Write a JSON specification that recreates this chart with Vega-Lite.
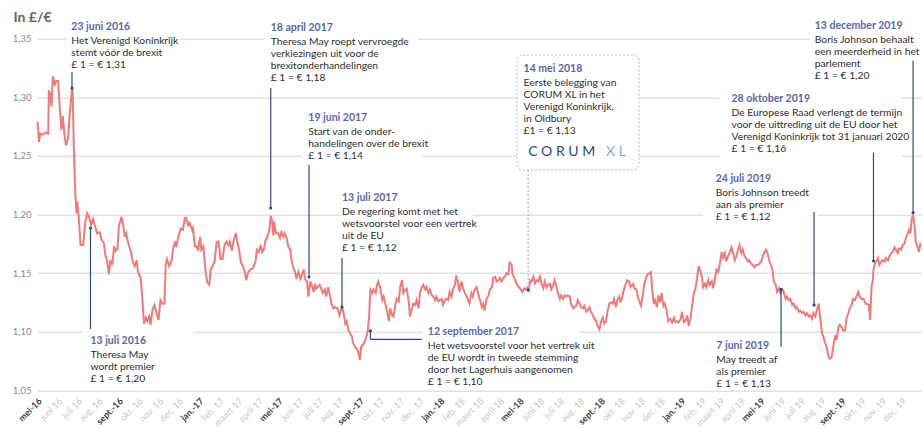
{
"$schema": "https://vega.github.io/schema/vega-lite/v6.json",
"width": 884, "height": 351.7,
"autosize": {"type": "none"},
"padding": {"left": 37, "top": 38.7, "right": 2, "bottom": 37.6},
"config": {"view": {"stroke": null}, "font": "Lato"},
"datasets": {
"fx": [
{"date":"2016-05-02","v":1.279},{"date":"2016-05-04","v":1.262},{"date":"2016-05-06","v":1.269},{"date":"2016-05-10","v":1.268},{"date":"2016-05-14","v":1.270},{"date":"2016-05-18","v":1.269},{"date":"2016-05-19","v":1.306},{"date":"2016-05-21","v":1.303},{"date":"2016-05-23","v":1.292},{"date":"2016-05-25","v":1.318},{"date":"2016-05-28","v":1.311},{"date":"2016-05-30","v":1.314},
{"date":"2016-06-02","v":1.314},{"date":"2016-06-04","v":1.295},{"date":"2016-06-07","v":1.272},{"date":"2016-06-09","v":1.284},{"date":"2016-06-12","v":1.266},{"date":"2016-06-14","v":1.259},{"date":"2016-06-17","v":1.265},{"date":"2016-06-20","v":1.289},{"date":"2016-06-23","v":1.307},{"date":"2016-06-24","v":1.306},{"date":"2016-06-26","v":1.252},{"date":"2016-06-28","v":1.218},{"date":"2016-06-30","v":1.201},
{"date":"2016-07-01","v":1.211},{"date":"2016-07-03","v":1.199},{"date":"2016-07-06","v":1.174},{"date":"2016-07-10","v":1.174},{"date":"2016-07-13","v":1.193},{"date":"2016-07-16","v":1.201},{"date":"2016-07-19","v":1.198},{"date":"2016-07-22","v":1.191},{"date":"2016-07-25","v":1.196},{"date":"2016-07-28","v":1.190},{"date":"2016-07-31","v":1.184},
{"date":"2016-08-04","v":1.185},{"date":"2016-08-07","v":1.178},{"date":"2016-08-10","v":1.176},{"date":"2016-08-13","v":1.164},{"date":"2016-08-15","v":1.161},{"date":"2016-08-18","v":1.149},{"date":"2016-08-20","v":1.161},{"date":"2016-08-23","v":1.157},{"date":"2016-08-26","v":1.173},{"date":"2016-08-28","v":1.169},{"date":"2016-08-31","v":1.171},
{"date":"2016-09-02","v":1.190},{"date":"2016-09-06","v":1.198},{"date":"2016-09-08","v":1.193},{"date":"2016-09-11","v":1.181},{"date":"2016-09-13","v":1.184},{"date":"2016-09-16","v":1.176},{"date":"2016-09-20","v":1.169},{"date":"2016-09-23","v":1.160},{"date":"2016-09-26","v":1.156},{"date":"2016-09-29","v":1.161},
{"date":"2016-10-01","v":1.151},{"date":"2016-10-05","v":1.146},{"date":"2016-10-07","v":1.133},{"date":"2016-10-10","v":1.107},{"date":"2016-10-13","v":1.112},{"date":"2016-10-15","v":1.109},{"date":"2016-10-18","v":1.113},{"date":"2016-10-20","v":1.106},{"date":"2016-10-23","v":1.119},{"date":"2016-10-26","v":1.123},{"date":"2016-10-29","v":1.116},
{"date":"2016-11-01","v":1.110},{"date":"2016-11-04","v":1.127},{"date":"2016-11-07","v":1.124},{"date":"2016-11-10","v":1.124},{"date":"2016-11-12","v":1.158},{"date":"2016-11-14","v":1.162},{"date":"2016-11-17","v":1.156},{"date":"2016-11-21","v":1.161},{"date":"2016-11-23","v":1.170},{"date":"2016-11-26","v":1.177},{"date":"2016-11-28","v":1.172},
{"date":"2016-12-01","v":1.181},{"date":"2016-12-05","v":1.188},{"date":"2016-12-08","v":1.187},{"date":"2016-12-11","v":1.197},{"date":"2016-12-13","v":1.197},{"date":"2016-12-16","v":1.191},{"date":"2016-12-18","v":1.193},{"date":"2016-12-22","v":1.187},{"date":"2016-12-23","v":1.190},{"date":"2016-12-26","v":1.173},{"date":"2016-12-29","v":1.173},{"date":"2016-12-31","v":1.169},
{"date":"2017-01-03","v":1.181},{"date":"2017-01-05","v":1.170},{"date":"2017-01-08","v":1.173},{"date":"2017-01-11","v":1.153},{"date":"2017-01-14","v":1.142},{"date":"2017-01-17","v":1.140},{"date":"2017-01-19","v":1.153},{"date":"2017-01-22","v":1.156},{"date":"2017-01-25","v":1.160},{"date":"2017-01-28","v":1.176},{"date":"2017-01-31","v":1.177},
{"date":"2017-02-03","v":1.162},{"date":"2017-02-06","v":1.162},{"date":"2017-02-09","v":1.174},{"date":"2017-02-12","v":1.177},{"date":"2017-02-15","v":1.174},{"date":"2017-02-17","v":1.177},{"date":"2017-02-20","v":1.169},{"date":"2017-02-23","v":1.178},{"date":"2017-02-26","v":1.184},{"date":"2017-02-28","v":1.178},
{"date":"2017-03-03","v":1.170},{"date":"2017-03-06","v":1.159},{"date":"2017-03-09","v":1.156},{"date":"2017-03-12","v":1.150},{"date":"2017-03-14","v":1.144},{"date":"2017-03-17","v":1.151},{"date":"2017-03-20","v":1.153},{"date":"2017-03-24","v":1.154},{"date":"2017-03-28","v":1.160},{"date":"2017-03-30","v":1.170},
{"date":"2017-04-02","v":1.168},{"date":"2017-04-05","v":1.174},{"date":"2017-04-07","v":1.168},{"date":"2017-04-10","v":1.171},{"date":"2017-04-12","v":1.178},{"date":"2017-04-15","v":1.181},{"date":"2017-04-18","v":1.187},{"date":"2017-04-20","v":1.199},{"date":"2017-04-22","v":1.195},{"date":"2017-04-24","v":1.182},{"date":"2017-04-25","v":1.194},{"date":"2017-04-28","v":1.184},
{"date":"2017-05-01","v":1.184},{"date":"2017-05-04","v":1.180},{"date":"2017-05-06","v":1.185},{"date":"2017-05-09","v":1.181},{"date":"2017-05-11","v":1.184},{"date":"2017-05-14","v":1.180},{"date":"2017-05-17","v":1.172},{"date":"2017-05-19","v":1.171},{"date":"2017-05-22","v":1.160},{"date":"2017-05-24","v":1.155},{"date":"2017-05-27","v":1.151},{"date":"2017-05-29","v":1.145},
{"date":"2017-06-01","v":1.151},{"date":"2017-06-04","v":1.145},{"date":"2017-06-06","v":1.148},{"date":"2017-06-09","v":1.153},{"date":"2017-06-11","v":1.145},{"date":"2017-06-14","v":1.143},{"date":"2017-06-16","v":1.130},{"date":"2017-06-19","v":1.143},{"date":"2017-06-21","v":1.140},{"date":"2017-06-24","v":1.134},{"date":"2017-06-26","v":1.141},{"date":"2017-06-28","v":1.137},
{"date":"2017-07-03","v":1.140},{"date":"2017-07-06","v":1.136},{"date":"2017-07-08","v":1.133},{"date":"2017-07-11","v":1.136},{"date":"2017-07-13","v":1.130},{"date":"2017-07-16","v":1.138},{"date":"2017-07-19","v":1.130},{"date":"2017-07-21","v":1.124},{"date":"2017-07-24","v":1.120},{"date":"2017-07-26","v":1.121},{"date":"2017-07-30","v":1.120},
{"date":"2017-08-02","v":1.114},{"date":"2017-08-06","v":1.121},{"date":"2017-08-08","v":1.117},{"date":"2017-08-11","v":1.107},{"date":"2017-08-13","v":1.109},{"date":"2017-08-16","v":1.101},{"date":"2017-08-18","v":1.099},{"date":"2017-08-21","v":1.096},{"date":"2017-08-23","v":1.090},{"date":"2017-08-26","v":1.087},{"date":"2017-08-28","v":1.086},{"date":"2017-08-31","v":1.082},
{"date":"2017-09-02","v":1.076},{"date":"2017-09-04","v":1.087},{"date":"2017-09-07","v":1.089},{"date":"2017-09-09","v":1.091},{"date":"2017-09-12","v":1.096},{"date":"2017-09-14","v":1.101},{"date":"2017-09-16","v":1.113},{"date":"2017-09-18","v":1.136},{"date":"2017-09-21","v":1.133},{"date":"2017-09-23","v":1.136},{"date":"2017-09-26","v":1.133},{"date":"2017-09-28","v":1.140},{"date":"2017-09-30","v":1.143},
{"date":"2017-10-03","v":1.137},{"date":"2017-10-06","v":1.127},{"date":"2017-10-08","v":1.130},{"date":"2017-10-11","v":1.123},{"date":"2017-10-13","v":1.118},{"date":"2017-10-16","v":1.109},{"date":"2017-10-18","v":1.120},{"date":"2017-10-21","v":1.114},{"date":"2017-10-23","v":1.113},{"date":"2017-10-26","v":1.124},{"date":"2017-10-28","v":1.128},{"date":"2017-10-31","v":1.126},
{"date":"2017-11-02","v":1.138},{"date":"2017-11-05","v":1.144},{"date":"2017-11-07","v":1.133},{"date":"2017-11-10","v":1.136},{"date":"2017-11-12","v":1.137},{"date":"2017-11-15","v":1.126},{"date":"2017-11-17","v":1.113},{"date":"2017-11-20","v":1.120},{"date":"2017-11-22","v":1.124},{"date":"2017-11-25","v":1.123},{"date":"2017-11-27","v":1.127},{"date":"2017-11-30","v":1.120},
{"date":"2017-12-02","v":1.133},{"date":"2017-12-05","v":1.138},{"date":"2017-12-07","v":1.140},{"date":"2017-12-10","v":1.136},{"date":"2017-12-12","v":1.138},{"date":"2017-12-15","v":1.133},{"date":"2017-12-17","v":1.136},{"date":"2017-12-20","v":1.131},{"date":"2017-12-22","v":1.130},{"date":"2017-12-25","v":1.127},{"date":"2017-12-27","v":1.130},{"date":"2017-12-30","v":1.126},
{"date":"2018-01-01","v":1.127},{"date":"2018-01-04","v":1.128},{"date":"2018-01-06","v":1.123},{"date":"2018-01-09","v":1.127},{"date":"2018-01-11","v":1.128},{"date":"2018-01-14","v":1.127},{"date":"2018-01-16","v":1.134},{"date":"2018-01-19","v":1.130},{"date":"2018-01-21","v":1.136},{"date":"2018-01-24","v":1.140},{"date":"2018-01-26","v":1.148},{"date":"2018-01-29","v":1.141},{"date":"2018-01-31","v":1.134},
{"date":"2018-02-03","v":1.143},{"date":"2018-02-05","v":1.138},{"date":"2018-02-08","v":1.133},{"date":"2018-02-10","v":1.131},{"date":"2018-02-13","v":1.127},{"date":"2018-02-15","v":1.124},{"date":"2018-02-18","v":1.133},{"date":"2018-02-20","v":1.130},{"date":"2018-02-23","v":1.136},{"date":"2018-02-26","v":1.138},{"date":"2018-02-28","v":1.133},
{"date":"2018-03-03","v":1.127},{"date":"2018-03-06","v":1.121},{"date":"2018-03-08","v":1.124},{"date":"2018-03-10","v":1.118},{"date":"2018-03-13","v":1.128},{"date":"2018-03-16","v":1.131},{"date":"2018-03-18","v":1.136},{"date":"2018-03-21","v":1.138},{"date":"2018-03-23","v":1.146},{"date":"2018-03-26","v":1.147},{"date":"2018-03-28","v":1.143},{"date":"2018-03-31","v":1.144},
{"date":"2018-04-02","v":1.146},{"date":"2018-04-05","v":1.143},{"date":"2018-04-07","v":1.146},{"date":"2018-04-10","v":1.147},{"date":"2018-04-12","v":1.150},{"date":"2018-04-15","v":1.149},{"date":"2018-04-17","v":1.159},{"date":"2018-04-20","v":1.157},{"date":"2018-04-21","v":1.150},{"date":"2018-04-23","v":1.147},{"date":"2018-04-26","v":1.143},{"date":"2018-04-28","v":1.140},
{"date":"2018-05-01","v":1.138},{"date":"2018-05-04","v":1.136},{"date":"2018-05-06","v":1.134},{"date":"2018-05-09","v":1.137},{"date":"2018-05-11","v":1.136},{"date":"2018-05-14","v":1.138},{"date":"2018-05-16","v":1.136},{"date":"2018-05-18","v":1.144},{"date":"2018-05-20","v":1.143},{"date":"2018-05-23","v":1.147},{"date":"2018-05-25","v":1.141},{"date":"2018-05-28","v":1.144},{"date":"2018-05-30","v":1.143},
{"date":"2018-06-02","v":1.147},{"date":"2018-06-04","v":1.141},{"date":"2018-06-07","v":1.137},{"date":"2018-06-09","v":1.143},{"date":"2018-06-12","v":1.138},{"date":"2018-06-14","v":1.140},{"date":"2018-06-17","v":1.141},{"date":"2018-06-19","v":1.136},{"date":"2018-06-22","v":1.140},{"date":"2018-06-24","v":1.144},{"date":"2018-06-27","v":1.138},{"date":"2018-06-29","v":1.133},
{"date":"2018-07-02","v":1.128},{"date":"2018-07-04","v":1.131},{"date":"2018-07-07","v":1.128},{"date":"2018-07-09","v":1.131},{"date":"2018-07-12","v":1.130},{"date":"2018-07-14","v":1.131},{"date":"2018-07-17","v":1.130},{"date":"2018-07-19","v":1.124},{"date":"2018-07-22","v":1.120},{"date":"2018-07-24","v":1.121},{"date":"2018-07-27","v":1.122},{"date":"2018-07-29","v":1.127},
{"date":"2018-08-01","v":1.124},{"date":"2018-08-03","v":1.121},{"date":"2018-08-06","v":1.120},{"date":"2018-08-08","v":1.122},{"date":"2018-08-11","v":1.117},{"date":"2018-08-13","v":1.118},{"date":"2018-08-16","v":1.121},{"date":"2018-08-18","v":1.117},{"date":"2018-08-21","v":1.114},{"date":"2018-08-23","v":1.111},{"date":"2018-08-26","v":1.109},{"date":"2018-08-28","v":1.105},{"date":"2018-08-31","v":1.102},
{"date":"2018-09-02","v":1.108},{"date":"2018-09-05","v":1.112},{"date":"2018-09-07","v":1.107},{"date":"2018-09-10","v":1.109},{"date":"2018-09-12","v":1.117},{"date":"2018-09-15","v":1.124},{"date":"2018-09-17","v":1.125},{"date":"2018-09-20","v":1.124},{"date":"2018-09-22","v":1.128},{"date":"2018-09-25","v":1.121},{"date":"2018-09-27","v":1.127},{"date":"2018-09-30","v":1.130},
{"date":"2018-10-02","v":1.125},{"date":"2018-10-05","v":1.131},{"date":"2018-10-07","v":1.136},{"date":"2018-10-10","v":1.141},{"date":"2018-10-12","v":1.144},{"date":"2018-10-15","v":1.143},{"date":"2018-10-17","v":1.138},{"date":"2018-10-21","v":1.141},{"date":"2018-10-23","v":1.137},{"date":"2018-10-26","v":1.136},{"date":"2018-10-28","v":1.130},{"date":"2018-10-31","v":1.125},
{"date":"2018-11-02","v":1.122},{"date":"2018-11-05","v":1.133},{"date":"2018-11-07","v":1.141},{"date":"2018-11-10","v":1.147},{"date":"2018-11-12","v":1.149},{"date":"2018-11-15","v":1.150},{"date":"2018-11-17","v":1.151},{"date":"2018-11-18","v":1.141},{"date":"2018-11-21","v":1.124},{"date":"2018-11-23","v":1.127},{"date":"2018-11-26","v":1.121},{"date":"2018-11-28","v":1.131},
{"date":"2018-12-01","v":1.125},{"date":"2018-12-03","v":1.133},{"date":"2018-12-06","v":1.122},{"date":"2018-12-08","v":1.124},{"date":"2018-12-11","v":1.117},{"date":"2018-12-13","v":1.109},{"date":"2018-12-16","v":1.111},{"date":"2018-12-19","v":1.108},{"date":"2018-12-22","v":1.112},{"date":"2018-12-24","v":1.108},{"date":"2018-12-27","v":1.109},{"date":"2018-12-29","v":1.108},
{"date":"2019-01-01","v":1.111},{"date":"2019-01-03","v":1.117},{"date":"2019-01-06","v":1.108},{"date":"2019-01-08","v":1.109},{"date":"2019-01-11","v":1.114},{"date":"2019-01-13","v":1.105},{"date":"2019-01-16","v":1.112},{"date":"2019-01-18","v":1.121},{"date":"2019-01-21","v":1.133},{"date":"2019-01-23","v":1.136},{"date":"2019-01-26","v":1.146},{"date":"2019-01-28","v":1.156},{"date":"2019-01-30","v":1.153},
{"date":"2019-02-02","v":1.148},{"date":"2019-02-04","v":1.138},{"date":"2019-02-07","v":1.141},{"date":"2019-02-09","v":1.138},{"date":"2019-02-12","v":1.144},{"date":"2019-02-14","v":1.140},{"date":"2019-02-17","v":1.143},{"date":"2019-02-19","v":1.137},{"date":"2019-02-22","v":1.145},{"date":"2019-02-24","v":1.153},{"date":"2019-02-27","v":1.151},
{"date":"2019-03-01","v":1.157},{"date":"2019-03-04","v":1.168},{"date":"2019-03-06","v":1.163},{"date":"2019-03-09","v":1.167},{"date":"2019-03-11","v":1.160},{"date":"2019-03-14","v":1.165},{"date":"2019-03-16","v":1.167},{"date":"2019-03-19","v":1.172},{"date":"2019-03-21","v":1.168},{"date":"2019-03-24","v":1.161},{"date":"2019-03-26","v":1.164},{"date":"2019-03-29","v":1.170},{"date":"2019-03-31","v":1.174},
{"date":"2019-04-03","v":1.167},{"date":"2019-04-05","v":1.170},{"date":"2019-04-08","v":1.164},{"date":"2019-04-10","v":1.163},{"date":"2019-04-13","v":1.160},{"date":"2019-04-15","v":1.161},{"date":"2019-04-18","v":1.158},{"date":"2019-04-20","v":1.157},{"date":"2019-04-23","v":1.155},{"date":"2019-04-25","v":1.157},{"date":"2019-04-28","v":1.157},{"date":"2019-04-30","v":1.158},
{"date":"2019-05-03","v":1.160},{"date":"2019-05-05","v":1.164},{"date":"2019-05-10","v":1.170},{"date":"2019-05-12","v":1.168},{"date":"2019-05-15","v":1.161},{"date":"2019-05-17","v":1.158},{"date":"2019-05-20","v":1.153},{"date":"2019-05-22","v":1.143},{"date":"2019-05-25","v":1.140},{"date":"2019-05-27","v":1.134},{"date":"2019-05-30","v":1.137},
{"date":"2019-06-01","v":1.133},{"date":"2019-06-04","v":1.136},{"date":"2019-06-06","v":1.134},{"date":"2019-06-09","v":1.128},{"date":"2019-06-11","v":1.130},{"date":"2019-06-14","v":1.127},{"date":"2019-06-16","v":1.128},{"date":"2019-06-19","v":1.123},{"date":"2019-06-21","v":1.124},{"date":"2019-06-24","v":1.120},{"date":"2019-06-26","v":1.121},{"date":"2019-06-29","v":1.117},
{"date":"2019-07-01","v":1.118},{"date":"2019-07-04","v":1.116},{"date":"2019-07-06","v":1.117},{"date":"2019-07-09","v":1.114},{"date":"2019-07-11","v":1.116},{"date":"2019-07-14","v":1.113},{"date":"2019-07-16","v":1.114},{"date":"2019-07-19","v":1.111},{"date":"2019-07-21","v":1.116},{"date":"2019-07-24","v":1.113},{"date":"2019-07-26","v":1.118},{"date":"2019-07-29","v":1.124},{"date":"2019-07-31","v":1.113},
{"date":"2019-08-03","v":1.099},{"date":"2019-08-05","v":1.096},{"date":"2019-08-08","v":1.090},{"date":"2019-08-10","v":1.087},{"date":"2019-08-13","v":1.079},{"date":"2019-08-15","v":1.077},{"date":"2019-08-18","v":1.079},{"date":"2019-08-20","v":1.087},{"date":"2019-08-23","v":1.097},{"date":"2019-08-25","v":1.093},{"date":"2019-08-28","v":1.104},{"date":"2019-08-30","v":1.106},
{"date":"2019-09-02","v":1.104},{"date":"2019-09-04","v":1.101},{"date":"2019-09-07","v":1.101},{"date":"2019-09-09","v":1.111},{"date":"2019-09-12","v":1.116},{"date":"2019-09-14","v":1.120},{"date":"2019-09-17","v":1.123},{"date":"2019-09-19","v":1.128},{"date":"2019-09-22","v":1.127},{"date":"2019-09-24","v":1.130},{"date":"2019-09-27","v":1.134},{"date":"2019-09-29","v":1.130},
{"date":"2019-10-02","v":1.128},{"date":"2019-10-05","v":1.128},{"date":"2019-10-08","v":1.124},{"date":"2019-10-10","v":1.124},{"date":"2019-10-13","v":1.123},{"date":"2019-10-15","v":1.110},{"date":"2019-10-17","v":1.138},{"date":"2019-10-19","v":1.144},{"date":"2019-10-20","v":1.153},{"date":"2019-10-22","v":1.158},{"date":"2019-10-24","v":1.160},{"date":"2019-10-27","v":1.163},{"date":"2019-10-29","v":1.157},
{"date":"2019-11-01","v":1.160},{"date":"2019-11-03","v":1.161},{"date":"2019-11-06","v":1.160},{"date":"2019-11-08","v":1.163},{"date":"2019-11-11","v":1.161},{"date":"2019-11-13","v":1.164},{"date":"2019-11-16","v":1.167},{"date":"2019-11-18","v":1.168},{"date":"2019-11-21","v":1.172},{"date":"2019-11-23","v":1.170},{"date":"2019-11-26","v":1.167},{"date":"2019-11-28","v":1.171},
{"date":"2019-12-01","v":1.170},{"date":"2019-12-03","v":1.174},{"date":"2019-12-06","v":1.175},{"date":"2019-12-08","v":1.180},{"date":"2019-12-11","v":1.184},{"date":"2019-12-13","v":1.187},{"date":"2019-12-15","v":1.184},{"date":"2019-12-17","v":1.197},{"date":"2019-12-19","v":1.199},{"date":"2019-12-21","v":1.192},{"date":"2019-12-23","v":1.177},{"date":"2019-12-25","v":1.174},{"date":"2019-12-28","v":1.168},{"date":"2019-12-30","v":1.175},{"date":"2019-12-31","v":1.175}
],
"masks": [
{"date":"2016-06-15","date2":"2016-12-03","v":1.35},
{"date":"2017-04-12","date2":"2017-11-29","v":1.35},
{"date":"2019-07-15","date2":"2020-01-05","v":1.35},
{"date":"2019-03-01","date2":"2019-12-02","v":1.30},
{"date":"2017-06-07","date2":"2017-12-06","v":1.25},
{"date":"2019-03-01","date2":"2019-12-02","v":1.25},
{"date":"2017-08-03","date2":"2018-02-20","v":1.20},
{"date":"2019-02-04","date2":"2019-07-28","v":1.20},
{"date":"2016-07-09","date2":"2016-12-23","v":1.10},
{"date":"2017-12-06","date2":"2018-08-01","v":1.10}
],
"notes": [
{"date":"2016-06-22","v":1.3574,"title":"23 juni 2016","body":["Het Verenigd Koninkrijk","stemt vóór de brexit","£ 1 = € 1,31"]},
{"date":"2016-07-21","v":1.0896,"title":"13 juli 2016","body":["Theresa May","wordt premier","£ 1 = € 1,20"]},
{"date":"2017-04-20","v":1.3569,"title":"18 april 2017","body":["Theresa May roept vervroegde","verkiezingen uit voor de","brexitonderhandelingen","£ 1 = € 1,18"]},
{"date":"2017-06-16","v":1.2802,"title":"19 juni 2017","body":["Start van de onder-","handelingen over de brexit","£ 1 = € 1,14"]},
{"date":"2017-08-06","v":1.2115,"title":"13 juli 2017","body":["De regering komt met het","wetsvoorstel voor een vertrek","uit de EU","£ 1 = € 1,12"]},
{"date":"2017-12-14","v":1.0974,"title":"12 september 2017","body":["Het wetsvoorstel voor het vertrek uit","de EU wordt in tweede stemming","door het Lagerhuis aangenomen","£ 1 = € 1,10"]},
{"date":"2018-05-08","v":1.3216,"title":"14 mei 2018","body":["Eerste belegging van","CORUM XL in het","Verenigd Koninkrijk,","in Oldbury","£1 = € 1,13"]},
{"date":"2019-02-24","v":1.0853,"title":"7 juni 2019","body":["May treedt af","als premier","£ 1 = € 1,13"]},
{"date":"2019-02-23","v":1.2278,"title":"24 juli 2019","body":["Boris Johnson treedt","aan als premier","£ 1 = € 1,12"]},
{"date":"2019-03-19","v":1.2956,"title":"28 oktober 2019","body":["De Europese Raad verlengt de termijn","voor de uittreding uit de EU door het","Verenigd Koninkrijk tot 31 januari 2020","£ 1 = € 1,16"]},
{"date":"2019-07-23","v":1.3583,"title":"13 december 2019","body":["Boris Johnson behaalt","een meerderheid in het","parlement","£ 1 = € 1,20"]}
],
"links": [
{"date":"2016-06-23","v":1.3216,"v2":1.3079},
{"date":"2016-07-21","v":1.1885,"v2":1.1024},
{"date":"2017-04-20","v":1.3079,"v2":1.2056},
{"date":"2017-06-17","v":1.2423,"v2":1.1467},
{"date":"2017-08-06","v":1.1629,"v2":1.1211},
{"date":"2017-09-18","v":1.1009,"v2":1.0936},
{"date":"2019-06-02","v":1.1362,"v2":1.0873},
{"date":"2019-07-22","v":1.2022,"v2":1.1228},
{"date":"2019-10-20","v":1.2527,"v2":1.1604},
{"date":"2019-12-19","v":1.331,"v2":1.2016}
],
"hlinks": [{"date":"2017-09-18","date2":"2017-12-05","v":1.0936}],
"dlinks": [{"date":"2018-05-15","v":1.238,"v2":1.1356}],
"dots": [
{"date":"2016-06-23","v":1.3079},{"date":"2016-07-21","v":1.1885},{"date":"2017-04-20","v":1.2056},{"date":"2017-06-17","v":1.1467},{"date":"2017-08-06","v":1.1211},{"date":"2017-09-18","v":1.1009},{"date":"2018-05-15","v":1.1356},{"date":"2019-06-02","v":1.1362},{"date":"2019-07-22","v":1.1228},{"date":"2019-10-20","v":1.1604},{"date":"2019-12-19","v":1.2016}
],
"box": [{"date":"2018-04-28","date2":"2018-10-30","v":1.336,"v2":1.238}],
"logo": [{"date":"2018-05-15","v":1.2499,"word":"C O R U M","part":"a"},{"date":"2018-09-10","v":1.2499,"word":"X L","part":"b"}]
},
"layer": [
{"data": {"name": "masks"},
 "mark": {"type": "rule", "color": "white", "strokeWidth": 4},
 "encoding": {"x": {"field": "date", "type": "temporal", "title": null}, "x2": {"field": "date2"}, "y": {"field": "v", "type": "quantitative", "title": "In £/€"}}},
{"data": {"name": "fx"},
 "mark": {"type": "line", "color": "#f07a7a", "strokeWidth": 2},
 "encoding": {
  "x": {"field": "date", "type": "temporal", "title": null,
   "scale": {"type": "utc", "domain": [{"year": 2016, "month": 5, "date": 1, "utc": true}, {"year": 2019, "month": 12, "date": 31, "utc": true}]},
   "axis": {"title": null, "tickCount": {"interval": "month", "step": 1}, "grid": false, "ticks": false, "domain": false,
    "labelAngle": -45, "labelFontSize": 9, "labelPadding": 6, "labelOverlap": false, "labelFlush": false, "labelBound": false,
    "labelExpr": "['jan.-','feb. ','maart ','april ','mei-','juni ','juli ','aug. ','sept.-','okt. ','nov. ','dec. '][utcmonth(datum.value)] + utcFormat(datum.value, '%y')",
    "labelColor": {"condition": {"test": "utcmonth(datum.value) % 4 == 0", "value": "#3a3a3a"}, "value": "#c6c6c6"},
    "labelFontWeight": {"condition": {"test": "utcmonth(datum.value) % 4 == 0", "value": "bold"}, "value": "normal"}}},
  "y": {"field": "v", "type": "quantitative", "title": "In £/€",
   "scale": {"domain": [1.05, 1.35], "nice": false, "zero": false},
   "axis": {"title": "In £/€", "titleAngle": 0, "titleAlign": "left", "titleBaseline": "alphabetic", "titleX": -24, "titleY": -17,
    "titleFontSize": 14, "titleFontWeight": "bold", "titleColor": "#666666",
    "values": [1.05, 1.1, 1.15, 1.2, 1.25, 1.3, 1.35],
    "labelExpr": "replace(format(datum.value, '.2f'), '.', ',')",
    "labelFontSize": 9.5, "labelColor": "#8a8a8a", "labelPadding": 6, "ticks": false, "domain": false,
    "grid": true, "gridColor": "#e2e2e2", "gridWidth": 1.5}}
 }},
{"data": {"name": "box"},
 "mark": {"type": "rect", "fill": "white", "stroke": "#a8b9dc", "strokeDash": [2, 2], "strokeWidth": 1, "cornerRadius": 6},
 "encoding": {"x": {"field": "date", "type": "temporal", "title": null}, "x2": {"field": "date2"}, "y": {"field": "v", "type": "quantitative", "title": "In £/€"}, "y2": {"field": "v2"}}},
{"data": {"name": "links"},
 "mark": {"type": "rule", "color": "#2a4a8c", "strokeWidth": 1.2},
 "encoding": {"x": {"field": "date", "type": "temporal", "title": null}, "y": {"field": "v", "type": "quantitative", "title": "In £/€"}, "y2": {"field": "v2"}}},
{"data": {"name": "hlinks"},
 "mark": {"type": "rule", "color": "#2a4a8c", "strokeWidth": 1.2},
 "encoding": {"x": {"field": "date", "type": "temporal", "title": null}, "x2": {"field": "date2"}, "y": {"field": "v", "type": "quantitative", "title": "In £/€"}}},
{"data": {"name": "dlinks"},
 "mark": {"type": "rule", "color": "#a8b9dc", "strokeWidth": 1.2, "strokeDash": [2, 2]},
 "encoding": {"x": {"field": "date", "type": "temporal", "title": null}, "y": {"field": "v", "type": "quantitative", "title": "In £/€"}, "y2": {"field": "v2"}}},
{"data": {"name": "dots"},
 "mark": {"type": "point", "filled": true, "color": "#2a4a8c", "size": 10, "opacity": 1},
 "encoding": {"x": {"field": "date", "type": "temporal", "title": null}, "y": {"field": "v", "type": "quantitative", "title": "In £/€"}}},
{"data": {"name": "notes"},
 "mark": {"type": "text", "align": "left", "baseline": "alphabetic", "font": "Lato", "fontSize": 10.5, "fontWeight": "bold", "color": "#5a66ab"},
 "encoding": {"x": {"field": "date", "type": "temporal", "title": null}, "y": {"field": "v", "type": "quantitative", "title": "In £/€"}, "text": {"field": "title", "type": "nominal"}}},
{"data": {"name": "notes"},
 "mark": {"type": "text", "align": "left", "baseline": "alphabetic", "font": "Lato", "fontSize": 10.3, "color": "#2e2e2e", "dy": 14, "lineHeight": 12},
 "encoding": {"x": {"field": "date", "type": "temporal", "title": null}, "y": {"field": "v", "type": "quantitative", "title": "In £/€"}, "text": {"field": "body", "type": "nominal"}}},
{"data": {"name": "logo"},
 "mark": {"type": "text", "align": "left", "baseline": "alphabetic", "font": "Lato", "fontSize": 14},
 "encoding": {"x": {"field": "date", "type": "temporal", "title": null}, "y": {"field": "v", "type": "quantitative", "title": "In £/€"}, "text": {"field": "word", "type": "nominal"},
  "color": {"field": "part", "type": "nominal", "scale": {"domain": ["a", "b"], "range": ["#2a4a8c", "#8fa3cf"]}, "legend": null},
  "fontWeight": {"field": "part", "type": "nominal", "scale": {"domain": ["a", "b"], "range": [600, 300]}, "legend": null}}}
]
}
